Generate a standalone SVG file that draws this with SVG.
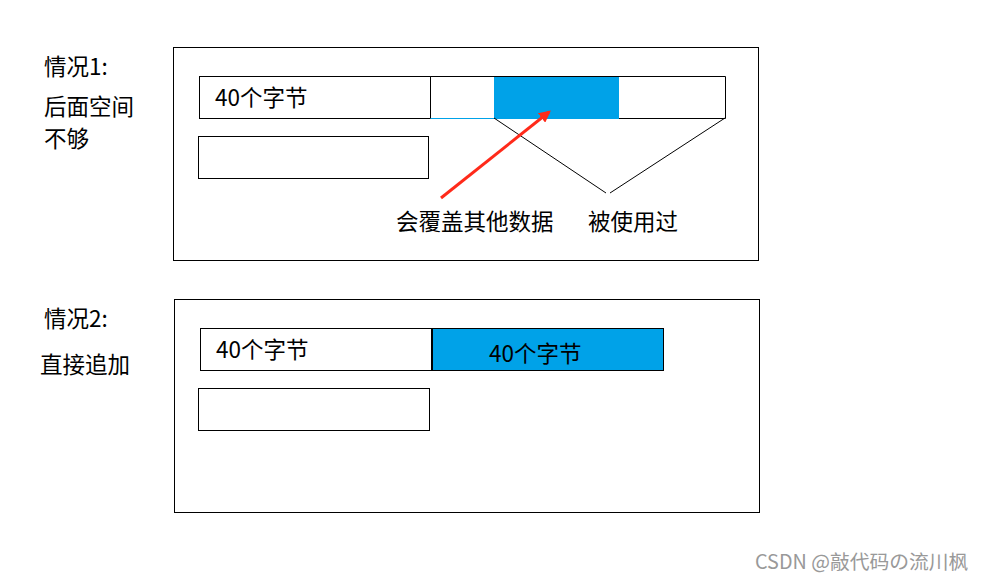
<svg xmlns="http://www.w3.org/2000/svg" width="982" height="581" viewBox="0 0 982 581">
<defs>
<style>
text{font-family:"Noto Sans CJK SC","Microsoft YaHei",sans-serif;font-size:22.5px;fill:#000}
.box{fill:#fff;stroke:#000;stroke-width:1}
.blue{fill:#00a2e8}
.ln{stroke:#000;stroke-width:1;fill:none}
.wm{font-size:19.8px;fill:#999}
</style>
<marker id="ah" viewBox="0 0 10 10" refX="8" refY="5" markerWidth="4" markerHeight="4" orient="auto">
<path d="M0,0 L10,5 L0,10 z" fill="#ff2a1a"/>
</marker>
</defs>
<rect width="982" height="581" fill="#fff"/>
<g id="label1">
<text x="44" y="75">情况1:</text>
<text x="44" y="115">后面空间</text>
<text x="44" y="147">不够</text>
</g>
<g id="frame1"><rect class="box" x="173.5" y="47.5" width="585" height="213"/></g>
<g id="c1-used"><rect class="box" x="199.5" y="76.5" width="231" height="42"/><text x="215" y="106">40个字节</text></g>
<g id="c1-free">
<rect x="430.5" y="76.5" width="295" height="42" fill="#fff"/>
<rect class="blue" x="494" y="76" width="125" height="43"/>
<path class="ln" d="M430.5,118.5 V76.5 H725.5 V118.5 H619"/>
<path d="M430.5,118.5 H494" stroke="#00a2e8" stroke-width="1"/>
</g>
<g id="c1-row2"><rect class="box" x="198.5" y="136.5" width="230" height="42"/></g>
<g id="c1-notes">
<text x="396" y="230">会覆盖其他数据</text>
<text x="588" y="230">被使用过</text>
</g>
<g id="connectors">
<path class="ln" d="M494,118 L606,193"/>
<path class="ln" d="M725,118 L610,193"/>
<path d="M441,198 L549,112" stroke="#ff2a1a" stroke-width="3" fill="none" marker-end="url(#ah)"/>
</g>
<g id="label2">
<text x="44" y="327">情况2:</text>
<text x="40" y="373">直接追加</text>
</g>
<g id="frame2"><rect class="box" x="174.5" y="299.5" width="585" height="213"/></g>
<g id="c2-used"><rect class="box" x="200.5" y="328.5" width="231" height="42"/><text x="216" y="358">40个字节</text></g>
<g id="c2-new"><rect class="blue" x="432.5" y="328.5" width="231" height="42" stroke="#000" stroke-width="1"/><text x="489" y="362">40个字节</text></g>
<g id="c2-row2"><rect class="box" x="198.5" y="388.5" width="231" height="42"/></g>
<text class="wm" x="755" y="569">CSDN @敲代码の流川枫</text>
</svg>
